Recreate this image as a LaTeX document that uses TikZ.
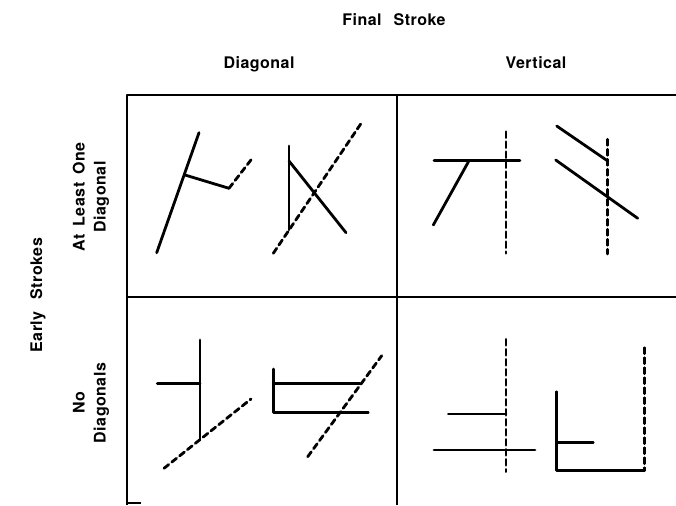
\documentclass[tikz,border=0pt]{standalone}
\usepackage{fontspec}
\setmainfont{TeX Gyre Heros}
\usepackage{tikz}
\newcommand{\wgap}{\hspace{0.75em}}

\begin{document}
\begin{tikzpicture}[x=1pt, y=-1pt, line cap=round, line join=round,
  ink/.style={line width=2.8pt},
  finalink/.style={line width=2.8pt, dash pattern=on 6pt off 4pt},
  rule/.style={line width=1.8pt, line cap=butt},
  lbl/.style={font=\fontsize{16}{21}\selectfont\bfseries\addfontfeature{LetterSpace=3}, inner sep=0pt, align=center}]
  \useasboundingbox (0,0) rectangle (676,505);

  % Headings
  \node[lbl, anchor=base] (final) at (394,26) {Final\wgap Stroke};
  \node[lbl, anchor=base] (diag) at (259,69) {Diagonal};
  \node[lbl, anchor=base] (vert) at (536,69) {Vertical};
  \node[lbl, rotate=90] (early) at (38,295) {Early\wgap Strokes};
  \node[lbl, rotate=90] (oneplus) at (91,197) {At\hspace{0.5em}Least\hspace{0.5em}One\\Diagonal};
  \node[lbl, rotate=90] (nodiag) at (91,403) {No\\Diagonals};

  % Table rules
  \draw[rule] (127,505) -- (127,95) -- (676,95);
  \draw[rule] (397,95) -- (397,505);
  \draw[rule] (127,297) -- (676,297);
  \draw[rule] (127,503) -- (141,503);

  % Diagonal / at least one diagonal
  \draw[ink] (156.7,252.7) -- (199,132.7);
  \draw[ink] (185,175) -- (229,188.3);
  \draw[finalink] (229,188.3) -- (251.7,159);
  \draw[ink] (289,146) -- (289,230);
  \draw[ink] (289,161) -- (346,232.7);
  \draw[finalink] (273.3,253.3) -- (360.7,124);

  % Vertical / at least one diagonal
  \draw[ink] (434,160.7) -- (520,160.7);
  \draw[ink] (469,160.7) -- (433.3,225);
  \draw[finalink] (506,131.7) -- (506,253.3);
  \draw[ink] (556.7,126) -- (607.3,160.7);
  \draw[ink] (555.7,160) -- (637.7,218.3);
  \draw[finalink] (607.3,139.3) -- (607.3,254);

  % Diagonal / no diagonals
  \draw[ink] (200,340) -- (200,439);
  \draw[ink] (157.3,383.3) -- (200,383.3);
  \draw[finalink] (164,468.3) -- (251,399);
  \draw[ink] (273.3,369) -- (273.3,412.7) -- (368.3,412.7);
  \draw[ink] (273.3,383.3) -- (360,383.3);
  \draw[finalink] (307.7,456.7) -- (381.7,355.7);

  % Vertical / no diagonals
  \draw[ink] (448.3,414) -- (506,414);
  \draw[ink] (434,450) -- (535,450);
  \draw[finalink] (506,339.3) -- (506,471.7);
  \draw[ink] (556.7,391.7) -- (556.7,470.7) -- (644.3,470.7);
  \draw[ink] (556.7,442.7) -- (593.3,442.7);
  \draw[finalink] (644.3,347.7) -- (644.3,470.7);
\end{tikzpicture}
\end{document}
